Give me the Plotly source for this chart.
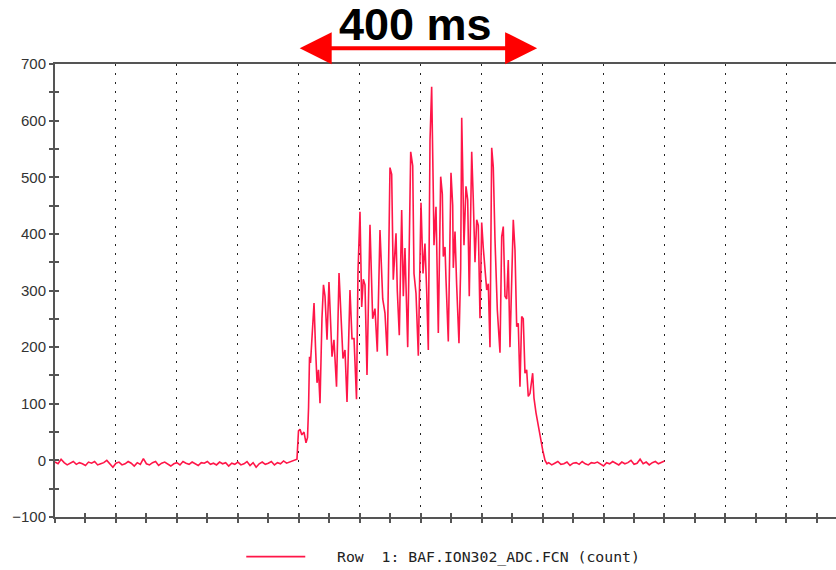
import plotly.graph_objects as go

# ---- data (time in ms, signal in counts) ----
pre_t = list(range(0, 400, 5))
pre_v = [-3, -6, 2, -4, -8, -5, -2, -7, -4, -6,
         -9, -3, -5, -2, -8, -6, -4, 0, -7, -12,
         -5, -3, -8, -6, -2, -5, -10, -4, -7, 3,
         -6, -8, -4, -2, -9, -5, -3, -7, -10, -6,
         -4, -8, -2, -5, -7, -3, -6, -9, -4, -5,
         -2, -7, -5, -8, -3, -6, -4, -10, -5, -7,
         -3, -8, -6, -2, -9, -4, -12, -6, -3, -7,
         -5, -2, -8, -4, -6, -1, -5, -3, -2, 0]

pulse_t = [397, 399.5, 402, 405, 408.5, 411.8, 414.3, 416, 417.6, 419.2,
           421.7, 425, 427.4, 429.9, 432.3, 434.8, 438, 440.5, 443, 446.3,
           449.5, 452, 454.5, 457.7, 461.9, 466, 469.3, 472.5, 475.8, 479.1,
           484, 487.3, 490.6, 494.7, 497.1, 500.4, 503.2, 505.8, 508.6, 511.9,
           516.8, 521.2, 525, 528.8, 533.2, 537.7, 541.4, 545.2, 549.6, 552.4,
           555, 559.5, 561.6, 564.9, 568.8, 571.5, 574.2, 578.7, 583.6, 586.9,
           589, 592.3, 596.1, 600.5, 603.8, 607, 609.8, 612.5, 615.3, 618,
           620.7, 621.8, 625.1, 628.9, 632.8, 635.5, 637.1, 639.9, 641.5, 645.3,
           649.7, 652.5, 653.5, 656.3, 659, 662.8, 665.6, 667.3, 668.9, 671,
           674.3, 677.1, 679.7, 683.7, 686.3, 689.1, 691.9, 694.5, 697.3, 700.1,
           702.7, 705.5, 708.3, 710.9, 713.7, 716.5, 719.1, 721.9, 723.5, 725.7,
           730.1, 732.9, 735.5, 738.3, 741.1, 743.7, 746.5, 749.3, 751.9, 754.7,
           757.5, 760.1, 762.9, 765.7, 768.3, 771.1, 773.9, 776.5, 779.3, 783.7,
           785.9, 789.2, 793, 795.7, 800.2, 804, 807.2]
pulse_v = [2, 52, 55, 45, 50, 31, 40, 93, 183, 172,
           218, 278, 200, 137, 160, 101, 250, 310, 290, 213,
           315, 250, 183, 213, 130, 331, 240, 180, 195, 103,
           301, 215, 215, 108, 333, 439, 271, 320, 310, 151,
           416, 250, 268, 192, 407, 285, 260, 185, 517, 505,
           319, 401, 300, 221, 442, 290, 375, 200, 545, 520,
           330, 295, 185, 455, 330, 383, 300, 195, 566, 660,
           472, 380, 448, 225, 501, 470, 360, 377, 320, 210,
           508, 450, 340, 404, 310, 207, 340, 605, 515, 380,
           484, 460, 290, 545, 460, 350, 425, 415, 251, 420,
           375, 330, 301, 312, 200, 552, 518, 390, 319, 266,
           190, 395, 413, 290, 285, 354, 200, 330, 425, 372,
           236, 242, 130, 254, 250, 154, 160, 113, 118, 154,
           110, 84, 59, 41, 18, 0, -6]

post_t = list(range(810, 1001, 5))
post_v = [-4, -8, -5, -2, -7, -6, -3, -9, -5, -4,
          -7, -2, -6, -8, -4, -5, -3, -7, -10, -4,
          -6, -2, -5, -8, -3, -6, -4, 0, -7, -5,
          2, -6, -3, -8, -4, -2, -6, -3, -1]

series_name = "\u00a0\u00a0\u00a0Row\u00a0\u00a01: BAF.ION302_ADC.FCN (count)"
y_ticks = [-100, 0, 100, 200, 300, 400, 500, 600, 700]

t_all = pre_t + pulse_t + post_t
v_all = pre_v + pulse_v + post_v

X_RANGE = [0, 1281.4]
Y_RANGE = [-100, 700]
RED = "rgb(255,22,72)"
AXC = "#555555"

fig = go.Figure()
fig.add_trace(go.Scatter(x=t_all, y=v_all, mode="lines", name=series_name,
                         line=dict(color=RED, width=1.6)))
# empty trace on overlay axes (draws inner half of crossing ticks)
fig.add_trace(go.Scatter(x=[], y=[], xaxis="x2", yaxis="y2", showlegend=False,
                         hoverinfo="skip"))

tickfont = dict(family="Liberation Sans, Arial, sans-serif", size=15, color="#333333")

fig.update_layout(
    width=836, height=570,
    margin=dict(l=55, r=0, t=64, b=53),
    paper_bgcolor="white", plot_bgcolor="white",
    showlegend=True,
    legend=dict(orientation="h", x=0.2385, xref="paper", y=0.0228, yref="container",
                xanchor="left", yanchor="middle",
                font=dict(family="DejaVu Sans Mono, monospace", size=14.8, color="#222222"),
                itemwidth=59, bgcolor="rgba(0,0,0,0)"),
    xaxis=dict(range=X_RANGE, showticklabels=False, ticks="outside", ticklen=4,
               tickwidth=2, tickcolor=AXC, dtick=100, tick0=0,
               minor=dict(ticks="outside", dtick=50, ticklen=4, tickwidth=2,
                          tickcolor=AXC, showgrid=False),
               showline=True, linecolor=AXC, linewidth=2, mirror=True,
               showgrid=True, gridcolor="#222222", gridwidth=1, griddash="1.5px,7.5px",
               zeroline=False, fixedrange=True),
    yaxis=dict(range=Y_RANGE, tickvals=y_ticks, ticks="outside", ticklen=4,
               tickwidth=2, tickcolor=AXC, tickfont=tickfont,
               minor=dict(ticks="outside", dtick=50, ticklen=4, tickwidth=2,
                          tickcolor=AXC, showgrid=False),
               showline=True, linecolor=AXC, linewidth=2, mirror=False,
               showgrid=False, zeroline=False, fixedrange=True),
    xaxis2=dict(range=X_RANGE, overlaying="x", anchor="y2", side="bottom",
                showticklabels=False, ticks="inside", ticklen=4, tickwidth=2,
                tickcolor=AXC, dtick=100, tick0=0,
                minor=dict(ticks="inside", dtick=50, ticklen=4, tickwidth=2,
                           tickcolor=AXC, showgrid=False),
                showgrid=False, zeroline=False, showline=False, fixedrange=True),
    yaxis2=dict(range=Y_RANGE, overlaying="y", anchor="x2", side="left",
                showticklabels=False, tickvals=y_ticks, ticks="inside", ticklen=4,
                tickwidth=2, tickcolor=AXC,
                minor=dict(ticks="inside", dtick=50, ticklen=4, tickwidth=2,
                           tickcolor=AXC, showgrid=False),
                showgrid=False, zeroline=False, showline=False, fixedrange=True),
)

# 400 ms double arrow
fig.add_annotation(x=791, y=1.035, xref="x", yref="paper",
                   ax=399, ay=0, axref="x", ayref="pixel",
                   text="", showarrow=True, arrowhead=2, startarrowhead=2,
                   arrowside="end+start", arrowwidth=4, arrowsize=1.6,
                   startarrowsize=1.6, arrowcolor="#FF0000", standoff=0, startstandoff=0)
fig.add_annotation(x=592, y=(517 - 24) / 453 - 0.0, xref="x", yref="paper",
                   text="<b>400 ms</b>",
                   showarrow=False, xanchor="center", yanchor="middle",
                   font=dict(family="Liberation Sans, Arial, sans-serif", size=45, color="#000000"))

fig.write_html("out.html")
